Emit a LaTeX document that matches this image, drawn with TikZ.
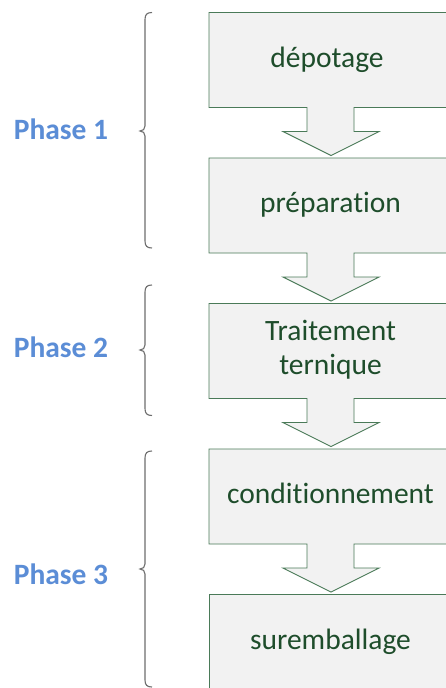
\documentclass[tikz,border=0pt]{standalone}
\usepackage{fontspec}
\setmainfont{Carlito}[RawFeature={-liga;-dlig}]
\definecolor{boxfill}{HTML}{F2F2F2}
\definecolor{boxline}{HTML}{4A7A58}
\definecolor{boxtext}{HTML}{1E4D2B}
\definecolor{phaseblue}{HTML}{5B8DD6}
\definecolor{bracegray}{HTML}{6E6E6E}
\newcommand\stepshape[1]{%
  % rectangle with a down-arrow callout below it; #1 = top edge
  \fill[boxfill] (209,#1) -- (453,#1) -- (453,#1+95) -- (354,#1+95) -- (354,#1+119)
    -- (379,#1+119) -- (331,#1+143) -- (283,#1+119) -- (307,#1+119) -- (307,#1+95)
    -- (209,#1+95) -- cycle;
  \draw[stepline] (209,#1) -- (453,#1) -- (453,#1+95) -- (354,#1+95) -- (354,#1+119)
    -- (379,#1+119) -- (331,#1+143) -- (283,#1+119) -- (307,#1+119) -- (307,#1+95)
    -- (209,#1+95) -- cycle;}
\newcommand\phasebrace[3]{%
  % left curly brace; #1 = top, #2 = tip, #3 = bottom
  \draw[bracestyle] (152,#1) .. controls (147,#1) and (145,#1+2) .. (145,#1+7)
    -- (145,#2-5) .. controls (145,#2-2) and (143,#2) .. (140,#2)
    .. controls (143,#2) and (145,#2+2) .. (145,#2+5)
    -- (145,#3-7) .. controls (145,#3-2) and (147,#3) .. (152,#3);}
\begin{document}
\begin{tikzpicture}[x=1pt,y=-1pt,
  stepline/.style={draw=boxline,line width=0.9pt,line join=miter},
  steptext/.style={text=boxtext,font=\fontsize{29.5}{34}\selectfont,anchor=base,align=center},
  phasetext/.style={text=phaseblue,font=\fontsize{29.5}{34}\selectfont\bfseries,anchor=base},
  bracestyle/.style={draw=bracegray,line width=1.1pt}]
\useasboundingbox (0,0) rectangle (446,688);
\fill[white] (0,0) rectangle (446,688);
\begin{scope}
\clip (0,0) rectangle (446,688);
\stepshape{12.5}
\stepshape{158}
\stepshape{303.5}
\stepshape{449}
% last box has no arrow below it
\fill[boxfill] (209,594.5) rectangle (453,700);
\draw[stepline] (209,700) -- (209,594.5) -- (453,594.5) -- (453,700);
\end{scope}

\node[steptext] (s1) at (327,67.3) {dépotage};
\node[steptext] (s2) at (330.5,212.8) {préparation};
\node[steptext] (s3a) at (330.5,340.7) {Traitement};
\node[steptext] (s3b) at (330.5,374.2) {ternique};
\node[steptext] (s4) at (330.5,503.8) {conditionnement};
\node[steptext] (s5) at (330.5,649.3) {suremballage};

\phasebrace{12.5}{131}{248}
\phasebrace{285}{350}{415.5}
\phasebrace{451}{569}{687}

\node[phasetext] (p1) at (61,139) {Phase 1};
\node[phasetext] (p2) at (61,357.3) {Phase 2};
\node[phasetext] (p3) at (61,584) {Phase 3};
\end{tikzpicture}
\end{document}
